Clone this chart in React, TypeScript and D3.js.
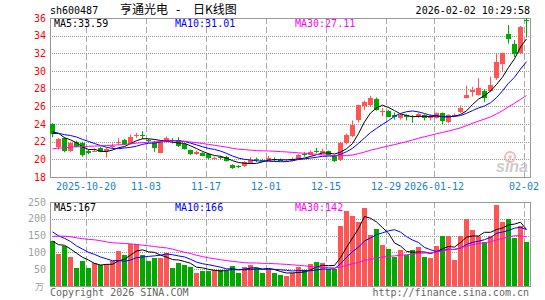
import React, { useRef, useEffect } from 'react';
import * as d3 from 'd3';

// trading days shown in the window
const monthDays: [string, number[]][] = [
  ['2025-10', [10, 13, 14, 15, 16, 17, 20, 21, 22, 23, 24, 27, 28, 29, 30, 31]],
  ['2025-11', [3, 4, 5, 6, 7, 10, 11, 12, 13, 14, 17, 18, 19, 20, 21, 24, 25, 26, 27, 28]],
  ['2025-12', [1, 2, 3, 4, 5, 8, 9, 10, 11, 12, 15, 16, 17, 18, 19, 22, 23, 24, 25, 26, 29, 30, 31]],
  ['2026-01', [5, 6, 7, 8, 9, 12, 13, 14, 15, 16, 19, 20, 21, 22, 23, 26, 27, 28, 29, 30]],
  ['2026-02', [2]],
];

const open = [
  23.95, 21.35, 22.4, 21.05, 22.0, 21.9, 21.0, 20.95, 21.3, 20.9,
  21.4, 21.9, 22.2, 21.8, 22.65, 22.75, 22.15, 21.95, 20.75, 21.95,
  22.15, 22.2, 21.7, 21.05, 20.6, 20.7, 20.6, 20.1, 20.25, 20.3,
  19.35, 19.2, 19.25, 19.55, 20.0, 19.95, 19.85, 20.05, 19.95, 19.8,
  19.85, 20.1, 20.55, 20.5, 20.95, 20.8, 20.9, 20.4, 20.0, 21.8,
  22.6, 24.4, 26.0, 26.1, 26.8, 25.35, 25.5, 25.0, 24.65, 25.0,
  24.9, 24.9, 25.0, 24.65, 24.65, 25.2, 24.2, 24.9, 25.3, 27.0,
  27.6, 27.3, 27.75, 27.75, 29.2, 30.8, 34.15, 33.05, 32.0, 35.8,
];
const high = [
  24.1, 22.4, 22.5, 22.0, 22.1, 22.0, 21.1, 21.2, 21.4, 21.3,
  21.8, 22.4, 22.3, 22.8, 23.0, 23.2, 22.3, 22.1, 22.1, 22.6,
  22.4, 22.5, 21.8, 21.1, 21.0, 20.8, 20.7, 20.3, 20.4, 20.4,
  19.45, 19.35, 19.8, 20.25, 20.2, 20.05, 20.4, 20.2, 20.1, 20.0,
  20.2, 20.6, 20.8, 21.0, 21.3, 21.2, 21.0, 20.5, 22.0, 22.9,
  24.4, 26.2, 26.65, 27.2, 27.0, 25.8, 25.6, 25.3, 25.2, 25.1,
  25.0, 25.3, 25.1, 25.1, 25.3, 25.3, 25.1, 25.2, 26.1, 28.35,
  28.2, 29.2, 27.9, 29.35, 32.0, 32.1, 35.2, 33.5, 35.1, 36.0,
];
const low = [
  22.5, 21.1, 20.8, 20.85, 21.35, 20.3, 20.6, 20.85, 20.8, 20.2,
  21.2, 21.6, 21.6, 21.7, 22.4, 22.3, 21.9, 20.85, 20.7, 21.9,
  21.8, 21.4, 21.1, 20.5, 20.5, 20.35, 20.0, 19.95, 20.0, 19.75,
  18.9, 19.0, 19.15, 19.5, 19.7, 19.75, 19.8, 19.75, 19.8, 19.7,
  19.75, 20.0, 20.3, 20.45, 20.7, 20.7, 20.45, 19.7, 19.8, 21.7,
  22.5, 24.2, 25.6, 26.0, 25.5, 24.9, 24.8, 24.5, 24.5, 24.4,
  24.15, 24.7, 24.4, 24.4, 24.6, 24.0, 24.1, 24.8, 25.2, 26.9,
  27.1, 27.2, 26.5, 27.6, 29.0, 29.9, 33.1, 31.6, 31.9, 33.8,
];
const close = [
  22.85, 22.25, 20.9, 21.9, 21.45, 20.55, 20.75, 21.0, 20.9, 21.15,
  21.5, 22.0, 21.7, 22.55, 22.8, 22.6, 22.0, 21.3, 22.0, 22.4,
  22.0, 21.5, 21.15, 20.6, 20.85, 20.4, 20.2, 20.12, 20.15, 19.8,
  19.0, 19.15, 19.7, 19.95, 19.9, 19.85, 20.2, 19.9, 19.9, 19.85,
  20.05, 20.5, 20.4, 20.85, 20.8, 21.0, 20.5, 19.85, 21.9, 22.75,
  23.9, 26.15, 26.5, 26.9, 25.6, 25.5, 24.85, 24.75, 25.0, 24.75,
  24.75, 25.1, 24.7, 24.85, 25.2, 24.3, 25.0, 25.05, 25.8, 27.3,
  27.85, 28.1, 27.0, 28.4, 31.0, 32.0, 33.6, 31.9, 35.0, 35.7,
];
const volume = [
  134, 95, 119, 86, 54, 74, 54, 68, 62, 64,
  75, 104, 92, 125, 125, 92, 74, 84, 84, 97,
  54, 68, 62, 57, 39, 44, 46, 47, 47, 46,
  60, 40, 57, 63, 53, 38, 51, 40, 34, 30,
  40, 57, 48, 65, 72, 67, 51, 51, 180, 224,
  208, 191, 232, 153, 170, 122, 110, 86, 107, 91,
  107, 116, 86, 83, 119, 150, 150, 77, 150, 199,
  168, 150, 132, 150, 240, 190, 198, 143, 178, 132,
];

// sessions before the window, needed for the moving averages at the left edge
const priorClose = [
  19.6, 19.8, 19.7, 20.0, 19.9, 20.1, 20.3, 20.2, 20.0, 20.4,
  20.6, 20.5, 20.3, 20.6, 20.8, 20.5, 20.4, 20.7, 20.9, 21.2,
  21.8, 22.4, 22.9, 23.1, 23.3, 23.0, 23.4, 23.1, 23.15,
];
const priorVolume = [
  95, 110, 130, 160, 145, 120, 105, 140, 175, 150,
  135, 125, 160, 180, 155, 130, 145, 165, 140, 165,
  210, 195, 180, 185, 170, 150, 128, 140, 118,
];

const tickDates = ['2025-10-20', '2025-11-03', '2025-11-17', '2025-12-01', '2025-12-15', '2025-12-29', '2026-01-12', '2026-02-02'];
const tickLabels = ['2025-10-20', '11-03', '11-17', '12-01', '12-15', '12-29', '2026-01-12', '02-02'];
const priceTicks = [36, 34, 32, 30, 28, 26, 24, 22, 20, 18];
const volTicks = [250, 200, 150, 100, 50];

const maPeriods = [5, 10, 30];
const maColors = ['#000000', '#0000ff', '#ff00ff'];
const priceMaText = ['MA5:33.59', 'MA10:31.01', 'MA30:27.11'];
const volMaText = ['MA5:167', 'MA10:166', 'MA30:142'];

const RED = '#ff5555';
const GREEN = '#00a800';
const MONO = '"DejaVu Sans Mono", monospace';
const CJK = '"Noto Sans CJK SC", sans-serif';

const movingAvg = (prior: number[], vals: number[], n: number) => {
  const all = prior.concat(vals);
  const off = prior.length;
  return vals.map((_, i) => d3.mean(all.slice(off + i - n + 1, off + i + 1)) as number);
};

const App = () => {
  const svgRef = useRef<SVGSVGElement>(null);

  useEffect(() => {
    document.body.style.margin = '0';
    const svg = d3.select(svgRef.current);
    svg.selectAll('*').remove();

    const dates: string[] = [];
    monthDays.forEach(([m, days]) => days.forEach(d => dates.push(`${m}-${String(d).padStart(2, '0')}`)));

    const left = 50, right = 530;
    const pTop = 18, pBot = 177;
    const vTop = 202, vBot = 286;

    const x = d3.scaleBand().domain(dates).range([left, right]).padding(0);
    const y = d3.scaleLinear().domain([18, 36]).range([pBot, pTop]);
    const yv = d3.scaleLinear().domain([0, 250]).range([vBot, vTop]);
    const bw = 5;
    const cx = (d: string) => (x(d) as number) + 2.5;
    const px = (v: number) => Math.round(v) + 0.5;

    // top texts
    svg.append('text').attr('x', 50).attr('y', 14).attr('font-family', MONO).attr('font-size', 10)
      .attr('fill', '#000').text('sh600487');
    svg.append('text').attr('x', 120).attr('y', 14).attr('font-family', CJK)
      .attr('font-size', 12).attr('fill', '#000').text('亨通光电');
    svg.append('text').attr('x', 178).attr('y', 14).attr('text-anchor', 'middle').attr('font-family', MONO)
      .attr('font-size', 12).attr('fill', '#000').text('-');
    svg.append('text').attr('x', 193).attr('y', 14).attr('font-family', CJK)
      .attr('font-size', 12).attr('fill', '#000').text('日K线图');
    svg.append('text').attr('x', 530).attr('y', 14).attr('text-anchor', 'end').attr('font-family', MONO)
      .attr('font-size', 10).attr('fill', '#000').text('2026-02-02 10:29:58');

    // grids
    const grid = (top: number, bot: number, yTicks: number[], ys: (v: number) => number) => {
      const g = svg.append('g');
      g.selectAll('line.h').data(yTicks.filter(v => px(ys(v)) > top + 1 && px(ys(v)) < bot - 1)).enter()
        .append('line').attr('class', 'h')
        .attr('x1', left).attr('x2', right).attr('y1', d => px(ys(d))).attr('y2', d => px(ys(d)))
        .attr('stroke', '#999').attr('stroke-dasharray', '1,1');
      g.selectAll('line.v').data(tickDates).enter()
        .append('line').attr('class', 'v')
        .attr('x1', d => px(x(d) as number)).attr('x2', d => px(x(d) as number))
        .attr('y1', top).attr('y2', bot)
        .attr('stroke', '#aaa').attr('stroke-dasharray', '6,3');
      g.append('rect').attr('x', left + 0.5).attr('y', top + 0.5).attr('width', right - left)
        .attr('height', bot - top).attr('fill', 'none').attr('stroke', '#999');
    };
    grid(pTop, pBot, priceTicks, y);
    grid(vTop, vBot, volTicks, yv);

    // price axis labels
    svg.append('g').selectAll('text').data(priceTicks).enter().append('text')
      .attr('x', 46).attr('y', d => y(d) + 3.5).attr('text-anchor', 'end')
      .attr('font-family', MONO).attr('font-size', 10).attr('fill', '#ff0000').text(d => d);

    // volume axis labels
    svg.append('g').selectAll('text').data(volTicks).enter().append('text')
      .attr('x', 46).attr('y', d => yv(d) + 3.5).attr('text-anchor', 'end')
      .attr('font-family', MONO).attr('font-size', 10).attr('fill', '#a0a0a0').text(d => d);
    svg.append('text').attr('x', 44).attr('y', 290).attr('text-anchor', 'end')
      .attr('font-family', CJK).attr('font-size', 9).attr('fill', '#a0a0a0').text('万');

    // date labels
    svg.append('g').selectAll('text').data(tickDates).enter().append('text')
      .attr('x', d => x(d) as number).attr('y', 190).attr('text-anchor', 'middle')
      .attr('font-family', MONO).attr('font-size', 10).attr('fill', '#1a7fd4')
      .text((d, i) => tickLabels[i]);

    // watermark
    const wm = svg.append('g').attr('opacity', 0.9);
    wm.append('circle').attr('cx', 510).attr('cy', 157).attr('r', 5).attr('fill', 'none')
      .attr('stroke', '#f3b4b4').attr('stroke-width', 2);
    wm.append('circle').attr('cx', 510).attr('cy', 157).attr('r', 1.8).attr('fill', '#f3b4b4');
    wm.append('text').attr('x', 496).attr('y', 172).attr('font-family', '"Liberation Sans", sans-serif')
      .attr('font-size', 16).attr('font-weight', 'bold').attr('font-style', 'italic')
      .attr('fill', '#c8c8c8').text('sina');

    // candles
    const idx = d3.range(dates.length);
    const cg = svg.append('g');
    cg.selectAll('line').data(idx).enter().append('line')
      .attr('x1', i => cx(dates[i])).attr('x2', i => cx(dates[i]))
      .attr('y1', i => y(high[i])).attr('y2', i => y(low[i]))
      .attr('stroke', i => (close[i] >= open[i] ? RED : GREEN));
    cg.selectAll('rect').data(idx).enter().append('rect')
      .attr('x', i => x(dates[i]) as number)
      .attr('y', i => Math.round(y(Math.max(open[i], close[i]))))
      .attr('width', bw)
      .attr('height', i => Math.max(1, Math.round(Math.abs(y(open[i]) - y(close[i])))))
      .attr('fill', i => (close[i] >= open[i] ? RED : GREEN));

    // volume bars
    svg.append('g').selectAll('rect').data(idx).enter().append('rect')
      .attr('x', i => x(dates[i]) as number)
      .attr('y', i => Math.round(yv(volume[i])))
      .attr('width', bw)
      .attr('height', i => vBot - Math.round(yv(volume[i])))
      .attr('fill', i => (close[i] >= open[i] ? RED : GREEN));

    // moving averages
    maPeriods.forEach((n, k) => {
      const pm = movingAvg(priorClose, close, n);
      const vm = movingAvg(priorVolume, volume, n);
      const lineP = d3.line<number>().x((_, i) => cx(dates[i])).y(v => y(v));
      const lineV = d3.line<number>().x((_, i) => cx(dates[i])).y(v => yv(v));
      svg.append('path').attr('d', lineP(pm)).attr('fill', 'none').attr('stroke', maColors[k]).attr('stroke-width', 1);
      svg.append('path').attr('d', lineV(vm)).attr('fill', 'none').attr('stroke', maColors[k]).attr('stroke-width', 1);
    });

    // MA legends
    const legX = [54, 175, 295];
    priceMaText.forEach((t, k) => {
      svg.append('text').attr('x', legX[k]).attr('y', 27).attr('font-family', MONO).attr('font-size', 10)
        .attr('fill', maColors[k]).text(t);
    });
    volMaText.forEach((t, k) => {
      svg.append('text').attr('x', legX[k]).attr('y', 211).attr('font-family', MONO).attr('font-size', 10)
        .attr('fill', maColors[k]).text(t);
    });

    // footer
    svg.append('text').attr('x', 50).attr('y', 296).attr('font-family', MONO).attr('font-size', 10)
      .attr('fill', '#666').text('Copyright 2026 SINA.COM');
    svg.append('text').attr('x', 529).attr('y', 296).attr('text-anchor', 'end').attr('font-family', MONO)
      .attr('font-size', 10).attr('fill', '#666').text('http://finance.sina.com.cn');
  }, []);

  return <svg ref={svgRef} width={545} height={300} style={{ display: 'block', background: '#fff' }}></svg>;
};

export default App;
